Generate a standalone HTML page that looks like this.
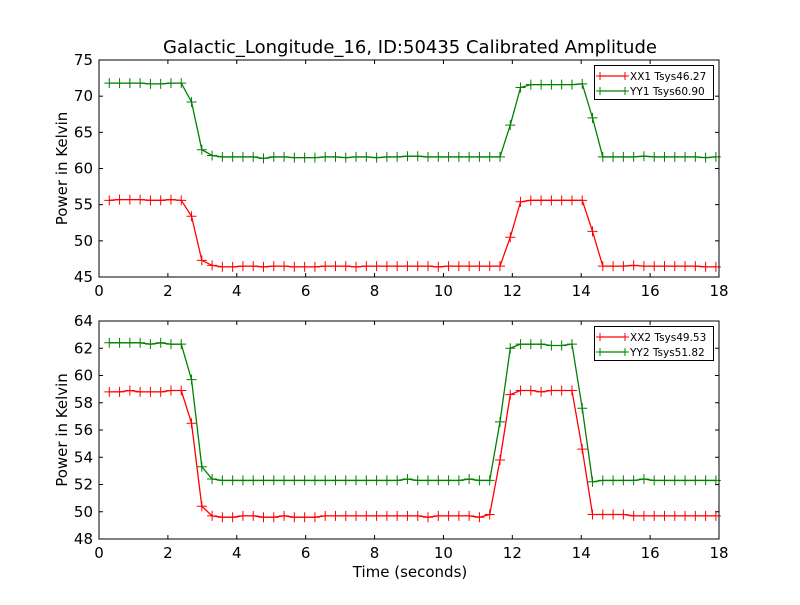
<!DOCTYPE html>
<html><head><meta charset="utf-8"><style>
body{margin:0;background:#fff}
svg text{font-family:"DejaVu Sans","Liberation Sans",sans-serif}
</style></head><body>
<svg id="c" width="800" height="600" xmlns="http://www.w3.org/2000/svg">
<rect width="800" height="600" fill="#fff"/>
<text x="410" y="53" font-size="18" text-anchor="middle">Galactic_Longitude_16, ID:50435 Calibrated Amplitude</text>
</svg>
<script>
const xTicks=[0,2,4,6,8,10,12,14,16,18];
const topYTicks=[45,50,55,60,65,70,75];
const botYTicks=[48,50,52,54,56,58,60,62,64];
const xx1=[55.6,55.7,55.7,55.7,55.6,55.6,55.7,55.6,53.4,47.3,46.6,46.4,46.4,46.5,46.5,46.4,46.5,46.5,46.4,46.4,46.4,46.5,46.5,46.5,46.4,46.5,46.5,46.5,46.5,46.5,46.5,46.5,46.4,46.5,46.5,46.5,46.5,46.5,46.5,50.5,55.4,55.6,55.6,55.6,55.6,55.6,55.6,51.3,46.5,46.5,46.5,46.6,46.5,46.5,46.5,46.5,46.5,46.5,46.4,46.4];
const yy1=[71.8,71.8,71.8,71.8,71.7,71.7,71.8,71.8,69.2,62.6,61.8,61.6,61.6,61.6,61.6,61.4,61.6,61.6,61.5,61.5,61.5,61.6,61.6,61.5,61.6,61.6,61.5,61.6,61.6,61.7,61.7,61.6,61.6,61.6,61.6,61.6,61.6,61.6,61.6,66.0,71.2,71.6,71.6,71.6,71.6,71.6,71.7,67.0,61.6,61.6,61.6,61.6,61.7,61.6,61.6,61.6,61.6,61.6,61.5,61.6];
const xx2=[58.8,58.8,58.9,58.8,58.8,58.8,58.9,58.9,56.5,50.4,49.7,49.6,49.6,49.7,49.7,49.6,49.6,49.7,49.6,49.6,49.6,49.7,49.7,49.7,49.7,49.7,49.7,49.7,49.7,49.7,49.7,49.6,49.7,49.7,49.7,49.7,49.6,49.8,53.8,58.6,58.9,58.9,58.8,58.9,58.9,58.9,54.6,49.8,49.8,49.8,49.8,49.7,49.7,49.7,49.7,49.7,49.7,49.7,49.7,49.7];
const yy2=[62.4,62.4,62.4,62.4,62.3,62.4,62.3,62.3,59.7,53.3,52.4,52.3,52.3,52.3,52.3,52.3,52.3,52.3,52.3,52.3,52.3,52.3,52.3,52.3,52.3,52.3,52.3,52.3,52.3,52.4,52.3,52.3,52.3,52.3,52.3,52.4,52.3,52.3,56.6,62.0,62.3,62.3,62.3,62.2,62.2,62.3,57.6,52.2,52.3,52.3,52.3,52.3,52.4,52.3,52.3,52.3,52.3,52.3,52.3,52.3];
const dt=0.2985;
const NS="http://www.w3.org/2000/svg";
const svg=document.getElementById('c');
function mk(t,a,p){const e=document.createElementNS(NS,t);for(const k in a)e.setAttribute(k,a[k]);(p||svg).appendChild(e);return e;}
function panel(top,bot,yTicks,series,names,tag){
  const L=99,R=719,xmin=0,xmax=18,ymin=yTicks[0],ymax=yTicks[yTicks.length-1];
  const X=v=>L+(v-xmin)/(xmax-xmin)*(R-L);
  const Y=v=>bot-(v-ymin)/(ymax-ymin)*(bot-top);
  const g=mk('g',{});
  
  
  xTicks.forEach(t=>{
    mk('line',{x1:X(t),x2:X(t),y1:bot,y2:bot-4,stroke:'#000'},g);
    mk('line',{x1:X(t),x2:X(t),y1:top,y2:top+4,stroke:'#000'},g);
    const tx=mk('text',{x:X(t),y:bot+19,'font-size':15,'text-anchor':'middle'},g);tx.textContent=t;
    
    
  });
  yTicks.forEach(t=>{
    mk('line',{x1:L,x2:L+4,y1:Y(t),y2:Y(t),stroke:'#000'},g);
    mk('line',{x1:R,x2:R-4,y1:Y(t),y2:Y(t),stroke:'#000'},g);
    const tx=mk('text',{x:L-6,y:Y(t)+5,'font-size':15,'text-anchor':'end'},g);tx.textContent=t;
    
    
  });
  const cols=['#ff0000','#008000'];
  series.forEach((s,si)=>{
    const pts=s.map((v,i)=>[X(dt*(i+1)),Y(v)]);
    const pl=mk('polyline',{points:pts.map(p=>p.join(',')).join(' '),fill:'none',stroke:cols[si],'stroke-width':1.3},g);
    
    
    let d='';pts.forEach(p=>{d+=`M${p[0]-5},${p[1]}h10M${p[0]},${p[1]-5}v10`;});
    mk('path',{d:d,stroke:cols[si],'stroke-width':1},g);
  });
  mk('rect',{x:L,y:top,width:R-L,height:bot-top,fill:'none',stroke:'#000','stroke-width':1},g);
  const yl=mk('text',{x:0,y:0,'font-size':15,'text-anchor':'middle',transform:`translate(67,${(top+bot)/2}) rotate(-90)`},g);
  yl.textContent='Power in Kelvin';
  
  
  const lg=mk('g',{},g);
  
  
  mk('rect',{x:594.5,y:top+5.5,width:119,height:34,fill:'#fff',stroke:'#000'},lg);
  names.forEach((n,i)=>{
    const yy=top+16+i*15;
    mk('line',{x1:600,x2:625,y1:yy,y2:yy,stroke:cols[i],'stroke-width':1.3},lg);
    mk('path',{d:`M596,${yy}h8M600,${yy-4}v8M621,${yy}h8M625,${yy-4}v8`,stroke:cols[i]},lg);
    const t=mk('text',{x:630,y:yy+4,'font-size':10.5},lg);t.textContent=n;
    
    
  });
}
panel(60,277,topYTicks,[xx1,yy1],['XX1 Tsys46.27','YY1 Tsys60.90'],'top');
panel(321,539,botYTicks,[xx2,yy2],['XX2 Tsys49.53','YY2 Tsys51.82'],'bottom');
const xl=mk('text',{x:410,y:577,'font-size':15,'text-anchor':'middle'});
xl.textContent='Time (seconds)';


</script>
</body></html>
